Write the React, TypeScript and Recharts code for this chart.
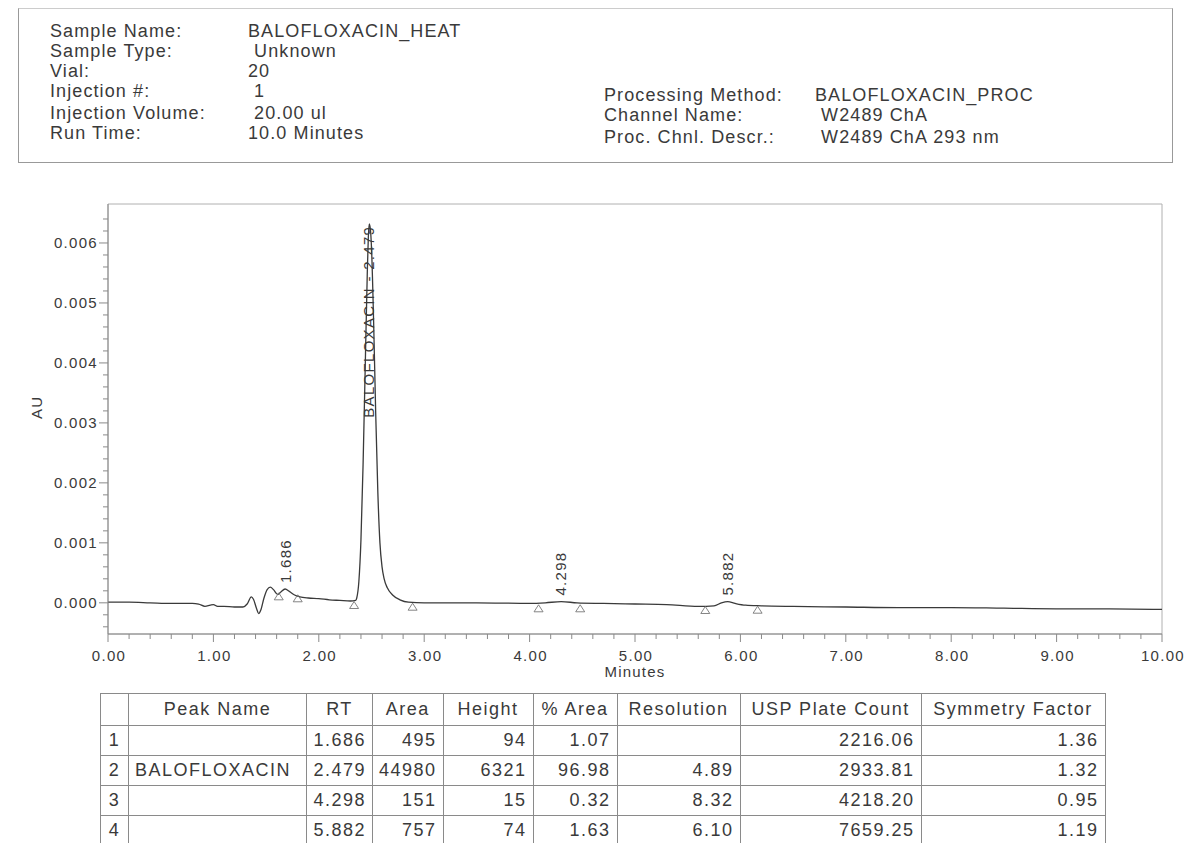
import { ComposedChart, Line, Scatter, XAxis, YAxis, ReferenceArea } from 'recharts';

const FONT = '"Liberation Sans", Arial, Helvetica, sans-serif';
const INK = '#3a3a3a';
const GRID = '#8a8a8a';

// chromatogram trace (minutes / AU)
const times = [
  0.0, 0.2, 0.4, 0.6, 0.8, 0.86, 0.92, 0.97, 1.0, 1.04, 1.1, 1.2, 1.28, 1.32, 1.36, 1.38, 1.41, 1.43,
  1.45, 1.48, 1.51, 1.54, 1.57, 1.61, 1.64, 1.68, 1.72, 1.77, 1.82, 1.9, 2.0, 2.1, 2.2, 2.3, 2.35,
  2.36, 2.38, 2.4, 2.42, 2.44, 2.46, 2.47, 2.479, 2.49, 2.5, 2.52, 2.54, 2.56, 2.58, 2.6, 2.62, 2.65,
  2.7, 2.77, 2.85, 3.0, 3.5, 4.0, 4.15, 4.3, 4.45, 4.7, 5.0, 5.3, 5.6, 5.75, 5.82, 5.88, 5.95, 6.05,
  6.2, 6.5, 7.0, 7.5, 8.0, 8.5, 9.0, 9.5, 10.0,
];
const absorbance = [
  0.00001, 0.00001, 0.0, -0.00001, -0.00001, -0.00002, -0.00006, -0.00004, -0.00003, -0.00006,
  -0.00006, -0.00007, -0.00007, -0.00002, 0.0001, 0.00006, -0.0001, -0.00018, -0.00012, 0.00008,
  0.00022, 0.00026, 0.00022, 0.00014, 0.00018, 0.00023, 0.00019, 0.00013, 0.0001, 0.00008, 0.00007,
  0.00005, 0.00004, 0.00003, 0.00004, 0.00008, 0.00035, 0.00105, 0.0023, 0.0039, 0.0055, 0.0061,
  0.00632, 0.00622, 0.00592, 0.0047, 0.00315, 0.00185, 0.001, 0.0006, 0.0004, 0.00025, 0.00013,
  0.00005, 0.00001, 0.0, 0.0, -0.00001, 0.0, 0.00002, 0.0, -0.00001, -0.00002, -0.00003, -0.00006,
  -0.00005, 0.0, 0.00002, -0.00001, -0.00004, -0.00005, -0.00006, -0.00007, -0.00008, -0.00008,
  -0.00009, -0.0001, -0.0001, -0.00011,
];

const peakTimes = [1.686, 2.479, 4.298, 5.882];
const peakApex = [0.00023, 0.00632, 0.00002, 0.00002];
const peakLabels = ['1.686', 'BALOFLOXACIN - 2.479', '4.298', '5.882'];

// baseline start / end markers
const markerTimes = [1.62, 1.8, 2.335, 2.89, 4.085, 4.48, 5.667, 6.163];
const markerValues = [0.0001, 0.000067, -0.000045, -0.000073, -0.0001, -0.0001, -0.000128, -0.000123];

const Y_MIN = -0.00052;
const Y_MAX = 0.00665;
const xTicks = Array.from({ length: 51 }, (_, i) => i * 0.2);
const yTicks = Array.from({ length: 35 }, (_, i) => (i - 2) * 0.0002);

const headerLeftLabels = ['Sample Name:', 'Sample Type:', 'Vial:', 'Injection #:', 'Injection Volume:', 'Run Time:'];
const headerLeftValues = ['BALOFLOXACIN_HEAT', ' Unknown', '20', ' 1', ' 20.00 ul', '10.0 Minutes'];
const headerRightLabels = ['Processing Method:', 'Channel Name:', 'Proc. Chnl. Descr.:'];
const headerRightValues = ['BALOFLOXACIN_PROC', ' W2489 ChA', ' W2489 ChA 293 nm'];

const columns = ['', 'Peak Name', 'RT', 'Area', 'Height', '% Area', 'Resolution', 'USP Plate Count', 'Symmetry Factor'];
const peakNames = ['', 'BALOFLOXACIN', '', ''];
const rtValues = ['1.686', '2.479', '4.298', '5.882'];
const areas = ['495', '44980', '151', '757'];
const heights = ['94', '6321', '15', '74'];
const pctArea = ['1.07', '96.98', '0.32', '1.63'];
const resolution = ['', '4.89', '8.32', '6.10'];
const plateCount = ['2216.06', '2933.81', '4218.20', '7659.25'];
const symmetry = ['1.36', '1.32', '0.95', '1.19'];
const colWidths = [28, 178, 66, 68, 90, 84, 123, 181, 184];

const trace = times.map((t, i) => ({ t, v: absorbance[i] }));
const markers = markerTimes.map((t, i) => ({ t, v: markerValues[i] }));
const peaks = peakTimes.map((t, i) => ({ t, v: peakApex[i], label: peakLabels[i] }));

const isMajor = (v: number, step: number) => Math.abs(v / step - Math.round(v / step)) < 1e-6;

const YTick = (props: any) => {
  const { x, y, payload } = props;
  const major = isMajor(payload.value, 0.001);
  return (
    <g>
      <line x1={x - (major ? 9 : 5)} x2={x} y1={y} y2={y} stroke={GRID} />
      {major && (
        <text x={x - 10} y={y} dy={5} textAnchor="end" fontSize={15} fill={INK} fontFamily={FONT} letterSpacing={1.3}>
          {payload.value.toFixed(3)}
        </text>
      )}
    </g>
  );
};

const XTick = (props: any) => {
  const { x, y, payload } = props;
  const major = isMajor(payload.value, 1);
  return (
    <g>
      <line x1={x} x2={x} y1={y} y2={y + (major ? 8 : 5)} stroke={GRID} />
      {major && (
        <text x={x + 1} y={y + 27} textAnchor="middle" fontSize={15} fill={INK} fontFamily={FONT} letterSpacing={1.3}>
          {payload.value.toFixed(2)}
        </text>
      )}
    </g>
  );
};

const Triangle = (props: any) => {
  const { cx, cy } = props;
  return <path d={`M${cx},${cy - 4} L${cx + 4.5},${cy + 3} L${cx - 4.5},${cy + 3} Z`} fill="none" stroke="#777" strokeWidth={0.9} />;
};

const PeakLabel = (props: any) => {
  const { cx, cy, payload } = props;
  const long = payload.label.length > 8;
  return (
    <text
      transform={`translate(${cx + 5},${long ? cy + 2 : cy - 6}) rotate(-90)`}
      textAnchor={long ? 'end' : 'start'}
      fontSize={15}
      fill={INK}
      fontFamily={FONT}
      letterSpacing={1.3}
    >
      {payload.label}
    </text>
  );
};

const textStyle = {
  position: 'absolute' as const,
  fontFamily: FONT,
  fontSize: 18,
  color: INK,
  letterSpacing: 1.1,
  lineHeight: '22px',
  whiteSpace: 'pre' as const,
};

export default function App() {
  const leftRows = [31, 51, 71, 91, 113, 133];
  const rightRows = [95, 115, 137];
  const rows = peakNames.map((n, i) => [String(i + 1), n, rtValues[i], areas[i], heights[i], pctArea[i], resolution[i], plateCount[i], symmetry[i]]);
  const cell = { border: '1px solid #8a8a8a', padding: '0 6px', whiteSpace: 'nowrap' as const };

  return (
    <div style={{ position: 'absolute', left: 0, top: 0, width: 1191, height: 843, background: '#fff', overflow: 'hidden' }}>
      <div style={{ position: 'absolute', left: 18, top: 8, width: 1153, height: 153, border: '1px solid #999', borderTopColor: '#ccc' }} />
      {headerLeftLabels.map((s, i) => (
        <div key={s} style={{ ...textStyle, left: 50, top: leftRows[i] - 11 }}>{s}</div>
      ))}
      {headerLeftValues.map((s, i) => (
        <div key={s} style={{ ...textStyle, left: 248, top: leftRows[i] - 11 }}>{s}</div>
      ))}
      {headerRightLabels.map((s, i) => (
        <div key={s} style={{ ...textStyle, left: 604, top: rightRows[i] - 11 }}>{s}</div>
      ))}
      {headerRightValues.map((s, i) => (
        <div key={s} style={{ ...textStyle, left: 815, top: rightRows[i] - 11 }}>{s}</div>
      ))}

      <div style={{ position: 'absolute', left: 0, top: 0 }}>
        <ComposedChart width={1191} height={680} margin={{ top: 204, right: 29, bottom: 0, left: 0 }}>
          <XAxis
            dataKey="t"
            type="number"
            domain={[0, 10]}
            ticks={xTicks}
            interval={0}
            height={46}
            tickLine={false}
            tickSize={0}
            tickMargin={0}
            axisLine={{ stroke: GRID }}
            tick={XTick}
            allowDataOverflow
            label={{ value: 'Minutes', position: 'insideBottom', offset: 3, fill: INK, fontSize: 15, fontFamily: FONT, letterSpacing: 1.2 }}
          />
          <YAxis
            type="number"
            domain={[Y_MIN, Y_MAX]}
            ticks={yTicks}
            interval={0}
            width={108}
            tickLine={false}
            tickSize={0}
            tickMargin={0}
            axisLine={{ stroke: GRID }}
            tick={YTick}
            allowDataOverflow
            label={{ value: 'AU', angle: -90, position: 'insideLeft', offset: 37, fill: INK, fontSize: 15, fontFamily: FONT, letterSpacing: 1.2 }}
          />
          <ReferenceArea x1={0} x2={10} y1={Y_MIN} y2={Y_MAX} fill="none" stroke="#b0b0b0" ifOverflow="visible" />
          <Line data={trace} dataKey="v" type="monotone" stroke={INK} strokeWidth={1.3} dot={false} isAnimationActive={false} />
          <Scatter data={markers} dataKey="v" shape={Triangle} isAnimationActive={false} />
          <Scatter data={peaks} dataKey="v" shape={PeakLabel} isAnimationActive={false} />
        </ComposedChart>
      </div>

      <table
        style={{
          position: 'absolute',
          left: 100,
          top: 693,
          borderCollapse: 'collapse',
          tableLayout: 'fixed',
          fontFamily: FONT,
          fontSize: 18,
          color: INK,
          letterSpacing: 1.5,
        }}
      >
        <colgroup>
          {colWidths.map((w, i) => (
            <col key={i} style={{ width: w }} />
          ))}
        </colgroup>
        <tbody>
          <tr style={{ height: 32 }}>
            {columns.map((c, i) => (
              <td key={i} style={{ ...cell, textAlign: 'center' }}>{c}</td>
            ))}
          </tr>
          {rows.map((r, ri) => (
            <tr key={ri} style={{ height: 30 }}>
              {r.map((v, ci) => (
                <td key={ci} style={{ ...cell, textAlign: ci === 0 ? 'center' : ci === 1 ? 'left' : 'right' }}>{v}</td>
              ))}
            </tr>
          ))}
        </tbody>
      </table>
    </div>
  );
}
